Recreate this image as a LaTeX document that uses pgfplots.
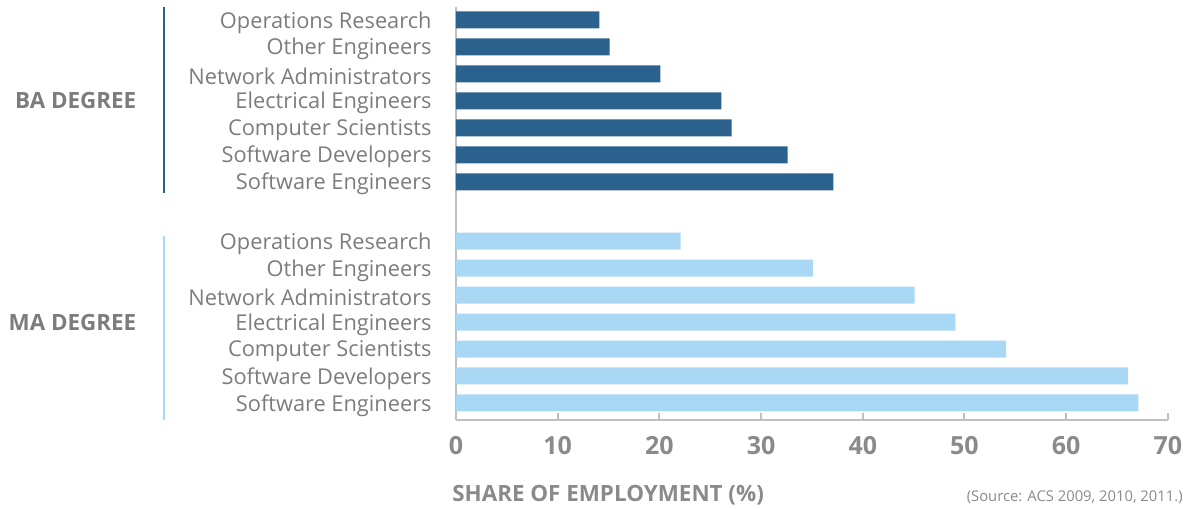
\documentclass[border=0pt]{standalone}
\usepackage{pgfplots}
\pgfplotsset{compat=1.18}
\usepackage{fontspec}
\setmainfont{Open Sans}
\definecolor{dblue}{HTML}{2B628D}
\definecolor{lblue}{HTML}{A9D8F4}
\definecolor{txtgray}{HTML}{7C7C7C}
\definecolor{tickgray}{HTML}{8A8A8A}
\definecolor{axgray}{HTML}{C0C0C0}
\begin{document}
\begin{tikzpicture}
\begin{axis}[
  scale only axis,
  width=356pt, height=206.5pt,
  xmin=0, xmax=70, ymin=-0.63, ymax=14.68,
  xbar, bar width=8.5pt, bar shift=0pt,
  clip=false,
  axis x line*=bottom,
  axis y line*=left,
  axis line style={draw=axgray, line width=1pt},
  xtick={0,10,...,70},
  tick align=inside,
  major tick length=3.5pt,
  xtick style={draw=axgray, line width=1pt},
  ytick style={draw=none},
  /pgf/number format/assume math mode=true,
  xticklabel style={font=\fontsize{12.5}{14}\selectfont\bfseries, text=tickgray, inner sep=0pt, yshift=-8pt},
  ytick={0,1,2,3,4,5,6,8.2,9.2,10.2,11.2,12.2,13.2,14.2},
  yticklabels={Software Engineers,Software Developers,Computer Scientists,Electrical Engineers,Network Administrators,Other Engineers,Operations Research,
               Software Engineers,Software Developers,Computer Scientists,Electrical Engineers,Network Administrators,Other Engineers,Operations Research},
  yticklabel style={font=\fontsize{10.9}{12}\selectfont, text=txtgray, inner sep=0pt, xshift=-12pt, yshift=-1.2pt},
]
\addplot[fill=lblue, draw=none] coordinates {(67.1,0) (66.1,1) (54.1,2) (49.1,3) (45.1,4) (35.1,5) (22.1,6)};
\addplot[fill=dblue, draw=none] coordinates {(37.1,8.2) (32.6,9.2) (27.1,10.2) (26.1,11.2) (20.1,12.2) (15.1,13.2) (14.1,14.2)};
\draw[dblue, line width=1pt] (axis cs:-28.7,14.68) -- (axis cs:-28.7,7.79);
\draw[lblue, line width=1pt] (axis cs:-28.7,6.19) -- (axis cs:-28.7,-0.63);
\node[anchor=east, inner sep=0pt, font=\fontsize{11.2}{13}\selectfont\bfseries, text=txtgray] at (axis cs:-31.4,11.2) {BA DEGREE};
\node[anchor=east, inner sep=0pt, font=\fontsize{11.2}{13}\selectfont\bfseries, text=txtgray] at (axis cs:-31.4,3) {MA DEGREE};
\node[anchor=west, inner sep=0pt, font=\fontsize{11.2}{13}\selectfont\bfseries, text=tickgray] at (axis cs:-0.4,-3.42) {SHARE OF EMPLOYMENT (\%)};
\node[anchor=east, inner sep=0pt, font=\fontsize{7.4}{9}\selectfont, text=tickgray] at (axis cs:71.49,-3.48) {(Source: ACS 2009, 2010, 2011.)};
\path (axis cs:-44.84,-3.91) rectangle (axis cs:72.57,14.94);
\end{axis}
\end{tikzpicture}
\end{document}
